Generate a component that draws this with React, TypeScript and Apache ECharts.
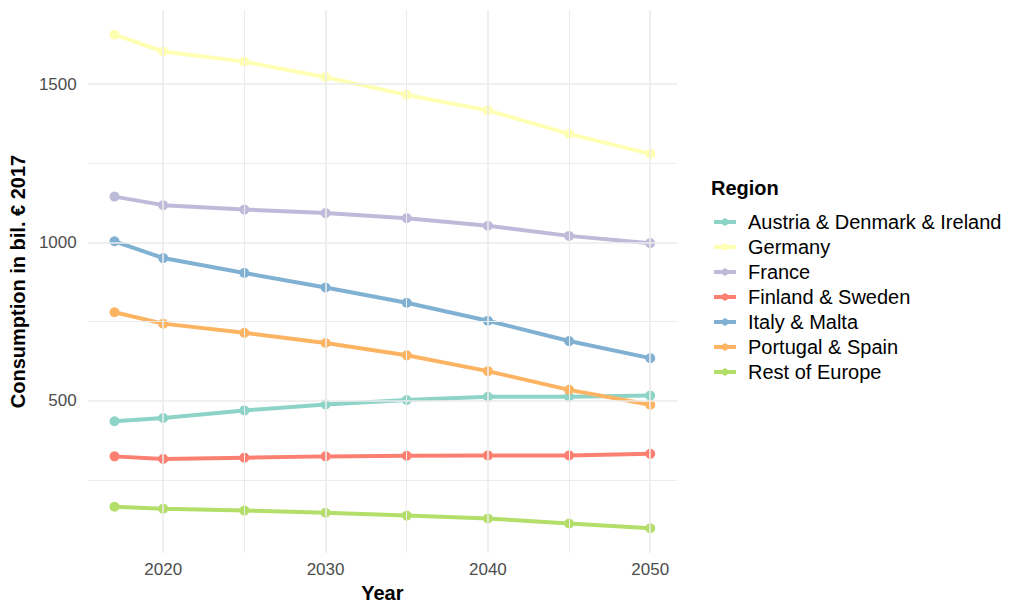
import React, { useEffect, useRef } from "react";
import * as echarts from "echarts";

const years = [2017, 2020, 2025, 2030, 2035, 2040, 2045, 2050];
const regions = [
  "Austria & Denmark & Ireland",
  "Germany",
  "France",
  "Finland & Sweden",
  "Italy & Malta",
  "Portugal & Spain",
  "Rest of Europe",
];
const austriaDenmarkIreland = [436, 446, 470, 489, 503, 513, 513, 517];
const germany = [1656, 1603, 1571, 1522, 1466, 1417, 1343, 1280];
const france = [1145, 1118, 1104, 1093, 1077, 1053, 1021, 998];
const finlandSweden = [325, 317, 321, 325, 327, 328, 328, 333];
const italyMalta = [1004, 951, 904, 858, 810, 753, 689, 635];
const portugalSpain = [780, 744, 715, 683, 644, 594, 535, 488];
const restOfEurope = [166, 160, 154, 147, 138, 129, 113, 98];
const seriesValues = [
  austriaDenmarkIreland,
  germany,
  france,
  finlandSweden,
  italyMalta,
  portugalSpain,
  restOfEurope,
];
const colors = ["#8DD3C7", "#FFFFB3", "#BEBADA", "#FB8072", "#80B1D3", "#FDB462", "#B3DE69"];
const xMajorTicks = [2020, 2030, 2040, 2050];
const xMinorTicks = [2025, 2035, 2045];
const yMajorTicks = [500, 1000, 1500];
const yMinorTicks = [250, 750, 1250];

const FONT = "'Liberation Sans', Arial, Helvetica, sans-serif";

export default function App() {
  const ref = useRef<HTMLDivElement>(null);
  useEffect(() => {
    document.body.style.margin = "0";
    if (!ref.current) return;
    const chart = echarts.init(ref.current, null, { renderer: "svg" });
    const gridSeries = (xs: number[], ys: number[], width: number) => ({
      type: "line",
      data: [],
      silent: true,
      z: 1,
      markLine: {
        silent: true,
        symbol: "none",
        animation: false,
        label: { show: false },
        lineStyle: { color: "#EBEBEB", width, type: "solid" },
        emphasis: { disabled: true },
        data: [
          ...xs.map((v) => ({ xAxis: v })),
          ...ys.map((v) => ({ yAxis: v })),
        ],
      },
    });
    chart.setOption({
      animation: false,
      backgroundColor: "#ffffff",
      textStyle: { fontFamily: FONT },
      title: {
        text: "Region",
        left: 711,
        top: 178,
        padding: 0,
        textStyle: { fontFamily: FONT, fontSize: 20, fontWeight: "bold", color: "#000000" },
      },
      legend: {
        data: regions,
        orient: "vertical",
        left: 712,
        top: 212,
        itemWidth: 22,
        itemHeight: 9,
        itemGap: 5,
        padding: 0,
        lineStyle: { width: 4 },
        textStyle: {
          fontFamily: FONT,
          fontSize: 20,
          color: "#000000",
          padding: [0, 0, 0, 7],
        },
      },
      grid: { left: 84, right: 347, top: 10, bottom: 61, containLabel: false },
      xAxis: {
        type: "value",
        min: 2015.35,
        max: 2051.65,
        name: "Year",
        nameLocation: "middle",
        nameGap: 28,
        nameTextStyle: { fontFamily: FONT, fontSize: 20, fontWeight: "bold", color: "#000000" },
        axisLine: { show: false },
        axisTick: { show: false },
        splitLine: { show: false },
        axisLabel: {
          customValues: xMajorTicks,
          margin: 8,
          fontFamily: FONT,
          fontSize: 17,
          color: "#4D4D4D",
          formatter: (v: number) => String(v),
        },
      },
      yAxis: {
        type: "value",
        min: 20,
        max: 1734,
        name: "Consumption in bil. € 2017",
        nameLocation: "middle",
        nameGap: 56,
        nameTextStyle: { fontFamily: FONT, fontSize: 20, fontWeight: "bold", color: "#000000" },
        axisLine: { show: false },
        axisTick: { show: false },
        splitLine: { show: false },
        axisLabel: {
          customValues: yMajorTicks,
          margin: 11,
          fontFamily: FONT,
          fontSize: 17,
          color: "#4D4D4D",
          formatter: (v: number) => String(v),
        },
      },
      series: [
        gridSeries(xMinorTicks, yMinorTicks, 1.0),
        gridSeries(xMajorTicks, yMajorTicks, 1.6),
        ...regions.map((name, i) => ({
          name,
          type: "line",
          z: 3,
          data: years.map((y, j) => [y, seriesValues[i][j]]),
          symbol: "circle",
          symbolSize: 10,
          lineStyle: { width: 4, color: colors[i] },
          itemStyle: { color: colors[i] },
          emphasis: { disabled: true },
        })),
      ],
    });
    return () => chart.dispose();
  }, []);
  return <div ref={ref} style={{ width: 1024, height: 614 }} />;
}
